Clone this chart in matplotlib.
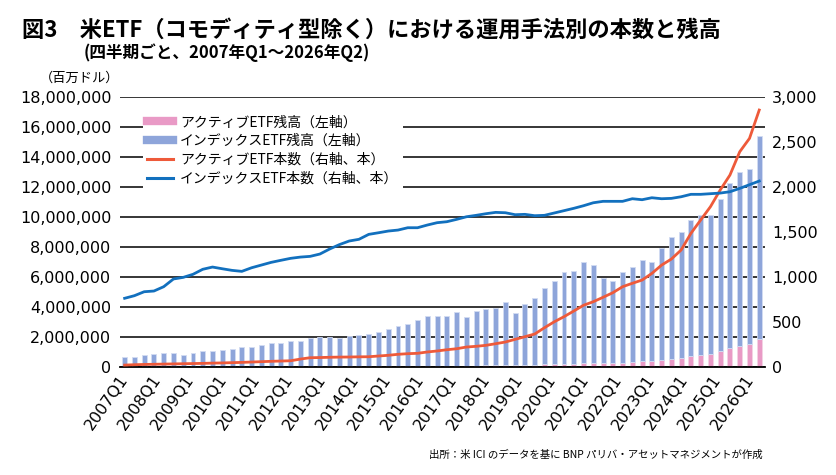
import numpy as np
import matplotlib
matplotlib.use("Agg")
import matplotlib.pyplot as plt
from matplotlib.lines import Line2D
from matplotlib.ticker import FuncFormatter

plt.rcParams['font.family'] = ['Noto Sans CJK JP', 'DejaVu Sans']

# 2007Q1 .. 2026Q2 quarter axis, labelled every Q1
quarters = [f"{y}Q{q}" for y in range(2007, 2027) for q in range(1, 5)][:78]
year_labels = [f"{y}Q1" for y in range(2007, 2027)]

# AUM (million USD)
active_aum = [5000, 5000, 6000, 7000, 7000, 8000, 8000, 9000, 10000, 11000,
              12000, 13000, 14000, 15000, 16000, 18000, 19000, 20000, 22000, 24000,
              26000, 28000, 30000, 32000, 34000, 36000, 38000, 40000, 43000, 46000,
              50000, 54000, 58000, 62000, 66000, 68000, 75000, 82000, 90000, 100000,
              100000, 120000, 140000, 160000, 180000, 200000, 200000, 220000, 220000, 220000,
              220000, 240000, 310000, 360000, 400000, 440000, 530000, 600000, 710000, 780000,
              840000, 1040000, 1240000, 1380000, 1510000, 1870000]
index_aum = [675000, 635000, 744000, 833000, 903000, 922000, 762000, 901000, 1010000, 1009000,
             1128000, 1187000, 1306000, 1305000, 1414000, 1572000, 1591000, 1710000, 1728000, 1886000,
             1974000, 1972000, 1870000, 2018000, 2076000, 2144000, 2292000, 2450000, 2667000, 2824000,
             3040000, 3326000, 3322000, 3358000, 3574000, 3242000, 3635000, 3788000, 3840000, 4210000,
             3480000, 4100000, 4480000, 5130000, 5570000, 6130000, 6200000, 6800000, 6600000, 5740000,
             5510000, 6070000, 6380000, 6770000, 6580000, 7470000, 8160000, 8380000, 9070000, 9330000,
             9270000, 10200000, 11070000, 11620000, 11670000, 13530000]

# number of ETFs
active_count = [18, 22, 25, 27, 29, 31, 33, 35, 37, 40,
                42, 45, 48, 52, 56, 60, 63, 66, 85, 100,
                102, 105, 107, 108, 110, 111, 119, 127, 138, 145,
                149, 164, 175, 189, 200, 219, 227, 238, 256, 275,
                305, 334, 364, 434, 500, 557, 620, 684, 724, 773,
                824, 891, 929, 965, 1039, 1132, 1199, 1300, 1485, 1634,
                1782, 1968, 2135, 2394, 2543, 2859]
index_count = [762, 791, 835, 843, 891, 977, 995, 1029, 1085, 1110,
               1091, 1073, 1062, 1102, 1132, 1162, 1185, 1207, 1221, 1229,
               1255, 1311, 1360, 1400, 1419, 1474, 1492, 1511, 1522, 1548,
               1548, 1578, 1604, 1615, 1641, 1670, 1686, 1704, 1719, 1715,
               1693, 1697, 1682, 1686, 1712, 1738, 1764, 1793, 1826, 1842,
               1842, 1842, 1871, 1860, 1882, 1871, 1875, 1893, 1920, 1920,
               1927, 1934, 1949, 1986, 2027, 2068]

pink = '#E99AC6'
lav = '#8EA5DA'
red = '#EE5A3A'
blue = '#1270BE'

# the series are spread evenly over the quarter axis
x = np.linspace(0, len(quarters) - 1, len(index_aum))

fig = plt.figure(figsize=(8.37, 4.75), dpi=100)
ax = fig.add_axes([0.143, 0.228, 0.771, 0.567])

ax.bar(x, active_aum, width=0.6, color=pink, edgecolor='#f3d3e4', linewidth=0.6, zorder=2)
ax.bar(x, index_aum, width=0.6, bottom=active_aum, color=lav, edgecolor='#d3dcf2',
       linewidth=0.6, zorder=2)

ax.set_ylim(0, 18000000)
ax.set_yticks(np.arange(0, 18000001, 2000000))
ax.yaxis.set_major_formatter(FuncFormatter(lambda v, p: f"{int(v):,}"))
ax.set_xlim(-0.6, len(quarters) - 0.3)
ax.set_xticks([quarters.index(l) for l in year_labels])
ax.set_xticklabels(year_labels, rotation=55, ha='right', va='center',
                   rotation_mode='anchor', fontsize=11.5, family='DejaVu Sans')
ax.grid(axis='y', color='black', linewidth=1.1, zorder=0)
ax.set_axisbelow(True)
for s in ['top', 'left', 'right']:
    ax.spines[s].set_visible(False)
ax.spines['bottom'].set_linewidth(1.3)
ax.tick_params(axis='both', length=0)
ax.tick_params(axis='x', pad=7)
ax.tick_params(axis='y', pad=6)
for t in ax.get_yticklabels():
    t.set_fontsize(11.5)
    t.set_family('DejaVu Sans')

ax2 = ax.twinx()
ax2.plot(x, active_count, color=red, linewidth=2.0, zorder=3)
ax2.plot(x, index_count, color=blue, linewidth=2.0, zorder=3)
ax2.set_ylim(0, 3000)
ax2.set_yticks(np.arange(0, 3001, 500))
ax2.yaxis.set_major_formatter(FuncFormatter(lambda v, p: f"{int(v):,}"))
ax2.tick_params(axis='y', length=0, pad=5)
for t in ax2.get_yticklabels():
    t.set_fontsize(11.5)
    t.set_family('DejaVu Sans')
for s in ax2.spines.values():
    s.set_visible(False)

handles = [Line2D([], [], color=pink, linewidth=6),
           Line2D([], [], color=lav, linewidth=6),
           Line2D([], [], color=red, linewidth=2.2),
           Line2D([], [], color=blue, linewidth=2.2)]
labels = ['アクティブETF残高（左軸）', 'インデックスETF残高（左軸）',
          'アクティブETF本数（右軸、本）', 'インデックスETF本数（右軸、本）']
leg = ax2.legend(handles, labels, loc='upper left', bbox_to_anchor=(0.025, 0.975),
                 fontsize=10, frameon=True, facecolor='white', edgecolor='none',
                 framealpha=1, fancybox=False, handlelength=1.9, handletextpad=0.5,
                 labelspacing=0.35, borderpad=0.3)
leg.set_zorder(5)

fig.text(0.026, 0.937, '図3　米ETF（コモディティ型除く）における運用手法別の本数と残高',
         fontsize=16, fontweight='bold', va='center')
fig.text(0.100, 0.890, '(四半期ごと、2007年Q1～2026年Q2)',
         fontsize=12, fontweight='bold', va='center')
fig.text(0.048, 0.836, '（百万ドル）', fontsize=9.5, va='center')
fig.text(0.911, 0.042, '出所：米 ICI のデータを基に BNP パリバ・アセットマネジメントが作成',
         fontsize=7.5, ha='right', va='center')

fig.savefig('out.png', dpi=100)
